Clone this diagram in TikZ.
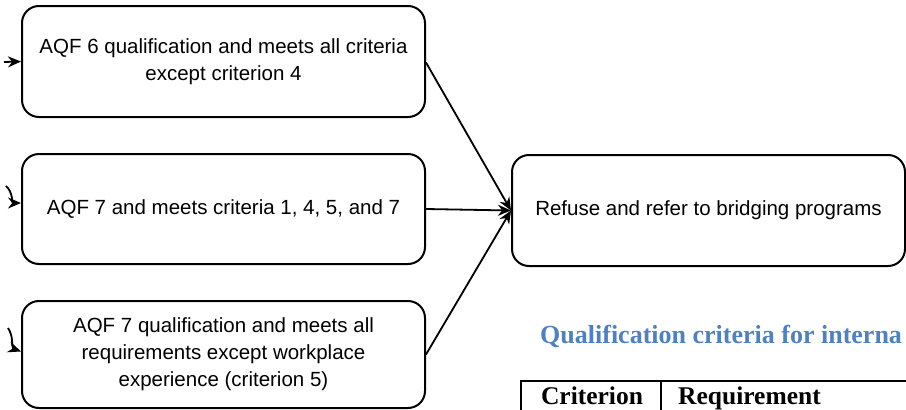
\documentclass[tikz,border=0pt]{standalone}
\usepackage{fontspec}
\setmainfont{Liberation Sans}
\newfontfamily\serifbold{Liberation Serif}
\usetikzlibrary{arrows.meta}
\definecolor{headblue}{HTML}{4F81BD}
\begin{document}
\begin{tikzpicture}[x=1pt,y=-1pt,
  box/.style={draw, line width=2pt, rounded corners=17pt, minimum width=403pt,
    align=center, font=\fontsize{20.5}{27}\selectfont, inner sep=0pt},
  arr/.style={-{Stealth[length=13pt,width=11pt]}, line width=1.8pt},
  cell/.style={font=\serifbold\bfseries\fontsize{25.5}{28}\selectfont, inner sep=0pt},
]
\useasboundingbox (0,0) rectangle (906,410);
\clip (0,0) rectangle (906,410);
\fill[white] (0,0) rectangle (906,410);
\node[box, minimum height=111pt] (a) at (223.5,61.5)
  {AQF 6 qualification and meets all criteria\\except criterion 4};
\node[box, minimum height=110pt] (b) at (223.5,209)
  {AQF 7 and meets criteria 1, 4, 5, and 7};
\node[box, minimum height=107pt] (c) at (223.5,354.5)
  {AQF 7 qualification and meets all\\requirements except workplace\\experience (criterion 5)};
\node[box, minimum height=111pt, minimum width=393pt] (r) at (708.5,210.5)
  {Refuse and refer to bridging programs};
\coordinate (fa) at (4,62);
\coordinate (fb) at (6,186);
\coordinate (fc) at (8,328);
\draw[arr] (fa) -- (a.west);
\draw[arr] (fb) to[out=-40,in=180] ([yshift=6pt]b.west);
\draw[arr] (fc) to[out=-55,in=160] ([yshift=3pt]c.west);
\draw[arr] ([yshift=-1pt]a.east) -- (r.west);
\draw[arr] (b.east) -- (r.west);
\draw[arr] (c.east) -- (r.west);
\node[anchor=base west, text=headblue, font=\serifbold\bfseries\fontsize{26}{28}\selectfont, inner sep=0pt]
  (title) at (540,343) {Qualification criteria for interna};
\draw[line width=1.3pt] (521,381) rectangle (960,460);
\draw[line width=1.3pt] (661,381) -- (661,460);
\node[cell, anchor=base] (h1) at (592,404) {Criterion};
\node[cell, anchor=base west] (h2) at (678,404) {Requirement};
\end{tikzpicture}
\end{document}
